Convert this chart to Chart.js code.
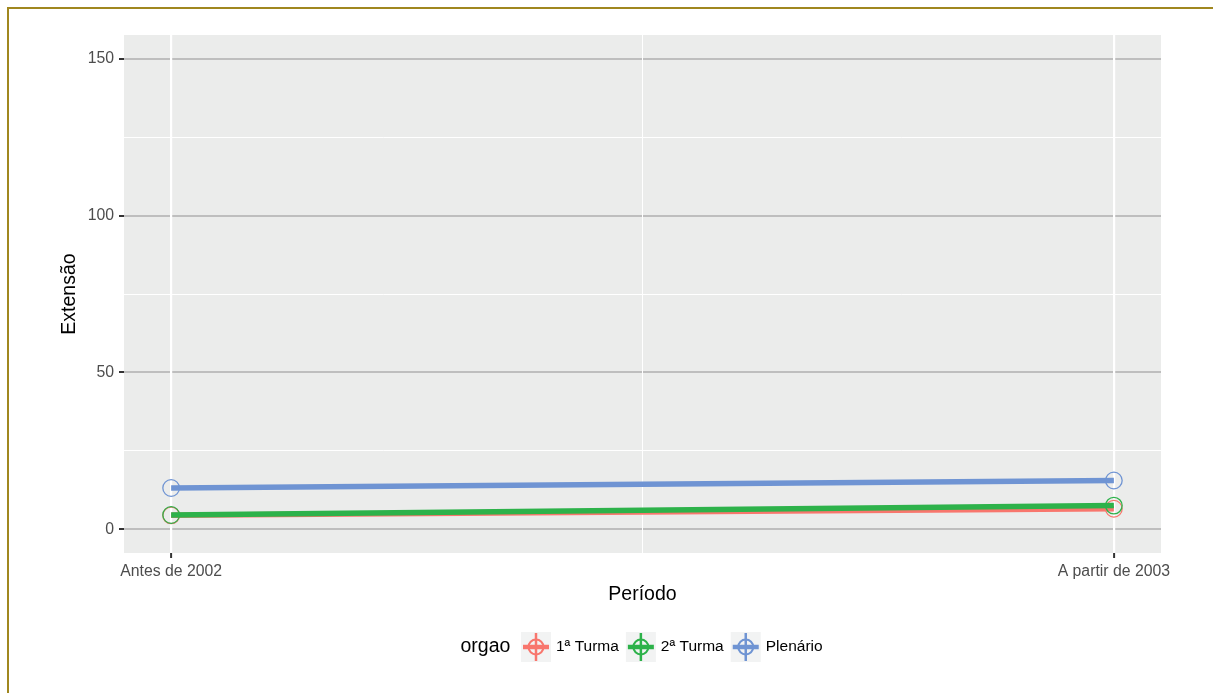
<!DOCTYPE html>
<html lang="pt">
<head>
<meta charset="utf-8">
<title>Extensão por período</title>
<script src="https://cdn.jsdelivr.net/npm/chart.js@4.4.1/dist/chart.umd.min.js"></script>
<style>
  html, body { margin: 0; padding: 0; background: #fff; overflow: hidden; }
  #wrap { position: relative; width: 1213px; height: 693px; }
  #frame {
    position: absolute; left: 7px; top: 7px; width: 1400px; height: 900px;
    border-top: 2px solid #A0871F; border-left: 2px solid #A0871F;
    pointer-events: none;
  }
  canvas { position: absolute; left: 0; top: 0; }
</style>
</head>
<body>
<div id="wrap">
  <canvas id="chart" width="1213" height="693"></canvas>
  <div id="frame"></div>
</div>
<script>
// data
const periodos = ["Antes de 2002", "A partir de 2003"];
const orgaos = ["1ª Turma", "2ª Turma", "Plenário"];
const turma1 = [4.5, 6.6];
const turma2 = [4.6, 7.6];
const plenario = [13.2, 15.6];
const yTicks = [0, 25, 50, 75, 100, 125, 150];
const yLabels = [0, 50, 100, 150];

const cores = ["#F8766D", "#2DB24A", "#6F94D3"];
const FONT = "'Liberation Sans', Arial, sans-serif";
const el = (id) => document.getElementById(id);

function serie(values){
  return values.map((v, i) => ({ x: i + 1, y: v }));
}

const seriesValues = [turma1, turma2, plenario];
const datasets = orgaos.map((nome, i) => ({
  label: nome,
  data: serie(seriesValues[i]),
  borderColor: cores[i],
  borderWidth: 5.5,
  pointRadius: 8.3,
  pointHoverRadius: 8.3,
  pointBorderWidth: 1.3,
  pointBorderColor: cores[i],
  pointBackgroundColor: "rgba(0,0,0,0)",
  order: orgaos.length - i
}));

const panelBg = {
  id: "panelBg",
  beforeDraw(chart){
    const { ctx, chartArea: a } = chart;
    ctx.save();
    ctx.fillStyle = "#EBECEB";
    ctx.fillRect(a.left, a.top, a.right - a.left, a.bottom - a.top);
    ctx.restore();
  }
};

// ggplot-like legend: title on the left, keys in a row
const legendRow = {
  id: "legendRow",
  afterDraw(chart){
    const ctx = chart.ctx;
    const cy = 647;
    ctx.save();
    ctx.fillStyle = "#000";
    ctx.textBaseline = "middle";
    ctx.font = "19.5px " + FONT;
    ctx.fillText("orgao", 460.5, cy);
    let x = 521;
    ctx.font = "15.5px " + FONT;
    orgaos.forEach((nome, i) => {
      const c = cores[i];
      ctx.fillStyle = "#F2F3F3";
      ctx.fillRect(x, cy - 15, 30, 30);
      ctx.strokeStyle = c;
      ctx.lineWidth = 2.5;
      ctx.beginPath(); ctx.moveTo(x + 15, cy - 14); ctx.lineTo(x + 15, cy + 14); ctx.stroke();
      ctx.lineWidth = 4.5;
      ctx.beginPath(); ctx.moveTo(x + 2, cy); ctx.lineTo(x + 28, cy); ctx.stroke();
      ctx.lineWidth = 2;
      ctx.beginPath(); ctx.arc(x + 15, cy, 7.5, 0, Math.PI * 2); ctx.stroke();
      ctx.fillStyle = "#000";
      ctx.fillText(nome, x + 35, cy);
      x += 35 + ctx.measureText(nome).width + 7;
    });
    ctx.restore();
  }
};

function init(){
  new Chart(el("chart").getContext("2d"), {
    type: "line",
    data: { datasets },
    options: {
      responsive: false,
      animation: false,
      events: [],
      layout: { padding: { left: 0, top: 35, right: 52, bottom: 0 } },
      plugins: { legend: { display: false }, tooltip: { enabled: false } },
      scales: {
        x: {
          type: "linear",
          min: 0.95,
          max: 2.05,
          afterBuildTicks: (s) => { s.ticks = [1, 1.5, 2].map(v => ({ value: v })); },
          afterFit: (s) => { s.height = 140; },
          border: { display: false },
          grid: {
            z: -1,
            color: "#FFFFFF",
            lineWidth: (c) => c.tick && c.tick.value === 1.5 ? 1 : 2.2,
            tickLength: 5,
            tickWidth: 2,
            tickColor: (c) => c.tick && c.tick.value === 1.5 ? "rgba(0,0,0,0)" : "#333333"
          },
          ticks: {
            autoSkip: false,
            maxRotation: 0,
            padding: 4,
            color: "#4D4D4D",
            font: { family: FONT, size: 15.8 },
            callback: (v) => Number.isInteger(v) ? periodos[v - 1] : ""
          },
          title: {
            display: true,
            text: "Período",
            color: "#000",
            font: { family: FONT, size: 19.5, lineHeight: 1 },
            padding: { top: 0, bottom: 89 }
          }
        },
        y: {
          type: "linear",
          min: -7.5,
          max: 157.5,
          afterBuildTicks: (s) => { s.ticks = yTicks.map(v => ({ value: v })); },
          afterFit: (s) => { s.width = 124; },
          border: { display: false },
          grid: {
            z: -2,
            color: (c) => c.tick && yLabels.includes(c.tick.value) ? "#BEBEBE" : "#FFFFFF",
            lineWidth: (c) => c.tick && yLabels.includes(c.tick.value) ? 2 : 1,
            tickLength: 5,
            tickWidth: 2,
            tickColor: (c) => c.tick && yLabels.includes(c.tick.value) ? "#333333" : "rgba(0,0,0,0)"
          },
          ticks: {
            autoSkip: false,
            padding: 5,
            color: "#4D4D4D",
            font: { family: FONT, size: 15.8 },
            callback: (v) => yLabels.includes(v) ? String(v) : ""
          },
          title: {
            display: true,
            text: "Extensão",
            color: "#000",
            font: { family: FONT, size: 19.5, lineHeight: 1 },
            padding: { top: 60, bottom: 0 }
          }
        }
      }
    },
    plugins: [panelBg, legendRow]
  });
}

document.addEventListener("DOMContentLoaded", init);
</script>
</body>
</html>
